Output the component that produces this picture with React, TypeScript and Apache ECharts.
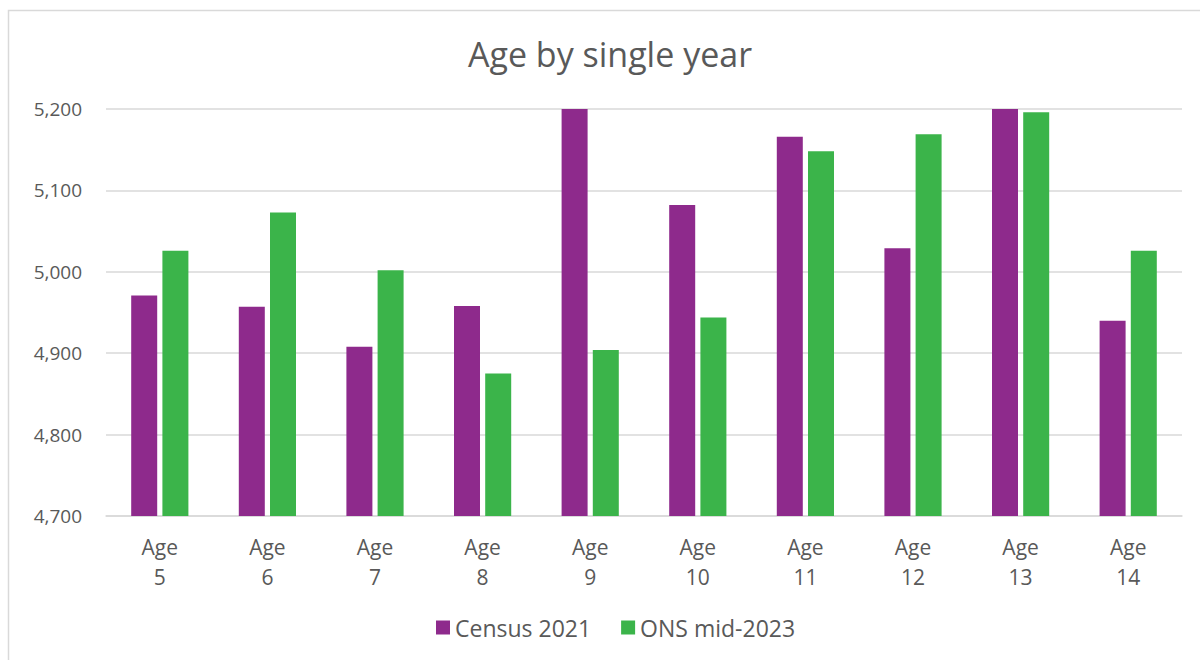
import React, { useEffect, useRef } from "react";
import * as echarts from "echarts";

const categories = ["Age\n5", "Age\n6", "Age\n7", "Age\n8", "Age\n9", "Age\n10", "Age\n11", "Age\n12", "Age\n13", "Age\n14"];
const census2021 = [4971, 4957, 4908, 4958, 5212, 5082, 5166, 5029, 5215, 4940];
const onsMid2023 = [5026, 5073, 5002, 4875, 4904, 4944, 5148, 5169, 5196, 5026];
const yTicks = { min: 4700, max: 5200, interval: 100 };

export default function App() {
  const ref = useRef<HTMLDivElement>(null);
  useEffect(() => {
    if (!ref.current) return;
    const chart = echarts.init(ref.current, undefined, { renderer: "svg" });
    const font = "'Open Sans', 'Liberation Sans', sans-serif";
    chart.setOption({
      animation: false,
      backgroundColor: "#ffffff",
      textStyle: { fontFamily: font },
      title: {
        text: "Age by single year",
        left: 605,
        top: 32,
        textAlign: "center",
        textStyle: { fontSize: 34, fontWeight: "normal", color: "#595959", fontFamily: font },
      },
      graphic: [
        {
          type: "rect",
          shape: { x: 8.5, y: 10.5, width: 1300, height: 700 },
          style: { fill: "none", stroke: "#d9d9d9", lineWidth: 1.5 },
          silent: true,
        },
      ],
      legend: {
        bottom: 16,
        left: 431,
        itemWidth: 14,
        itemHeight: 14,
        itemGap: 30,
        icon: "rect",
        textStyle: { fontSize: 23, color: "#595959", fontFamily: font },
        data: ["Census 2021", "ONS mid-2023"],
      },
      grid: { left: 106, right: 18, top: 109, bottom: 144, containLabel: false },
      xAxis: {
        type: "category",
        data: categories,
        axisLine: { show: true, lineStyle: { color: "#d9d9d9", width: 1.5 } },
        axisTick: { show: false },
        axisLabel: { fontSize: 21, color: "#595959", lineHeight: 30, margin: 16, fontFamily: font },
      },
      yAxis: {
        type: "value",
        min: yTicks.min,
        max: yTicks.max,
        interval: yTicks.interval,
        axisLine: { show: false },
        axisTick: { show: false },
        splitLine: { lineStyle: { color: "#d9d9d9", width: 1.5 } },
        axisLabel: {
          fontSize: 19,
          color: "#595959",
          margin: 24,
          fontFamily: font,
          formatter: (v: number) => v.toLocaleString("en-US"),
        },
      },
      series: [
        {
          name: "Census 2021",
          type: "bar",
          data: census2021,
          barWidth: 26,
          barGap: "20%",
          itemStyle: { color: "#8e2a8c" },
          clip: true,
        },
        {
          name: "ONS mid-2023",
          type: "bar",
          data: onsMid2023,
          barWidth: 26,
          barGap: "20%",
          itemStyle: { color: "#3bb44a" },
          clip: true,
        },
      ],
    });
    return () => chart.dispose();
  }, []);
  return <div ref={ref} style={{ position: "fixed", left: 0, top: 0, width: 1200, height: 660 }} />;
}
